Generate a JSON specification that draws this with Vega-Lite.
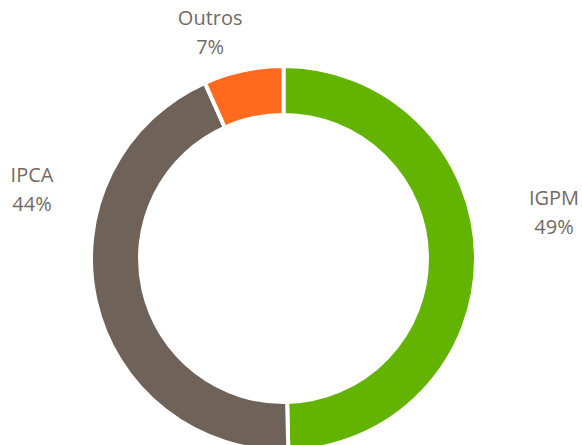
{
  "$schema": "https://vega.github.io/schema/vega-lite/v6.json",
  "width": 567,
  "height": 373,
  "padding": {"left": 0, "top": 72, "right": 15, "bottom": 0},
  "autosize": {"type": "none"},
  "background": "white",
  "view": {"stroke": null},
  "data": {
    "values": [
      {"category": "IGPM", "value": 49.6, "label": "IGPM\n49%"},
      {"category": "IPCA", "value": 43.7, "label": "IPCA\n44%"},
      {"category": "Outros", "value": 6.7, "label": "Outros\n7%"}
    ]
  },
  "encoding": {
    "theta": {"field": "value", "type": "quantitative", "stack": true},
    "color": {
      "field": "category",
      "type": "nominal",
      "scale": {"domain": ["IGPM", "IPCA", "Outros"], "range": ["#63B400", "#6F6359", "#FF6A1E"]},
      "legend": null
    }
  },
  "layer": [
    {
      "mark": {"type": "arc", "outerRadius": 192.5, "innerRadius": 143.5, "stroke": "white", "strokeWidth": 4}
    },
    {
      "mark": {
        "type": "text",
        "radius": 250,
        "font": "Open Sans",
        "fontSize": 20,
        "lineBreak": "\n",
        "lineHeight": 29,
        "align": "center",
        "baseline": "middle",
        "color": "#726A64",
        "fill": "#726A64",
        "dx": {"expr": "datum.category === 'IGPM' ? 20.5 : datum.category === 'IPCA' ? -7.7 : -21.1"},
        "dy": {"expr": "datum.category === 'IGPM' ? -56.7 : datum.category === 'IPCA' ? -137.4 : 5.4"}
      },
      "encoding": {
        "text": {"field": "label", "type": "nominal"},
        "color": {"value": "#726A64"}
      }
    }
  ]
}
